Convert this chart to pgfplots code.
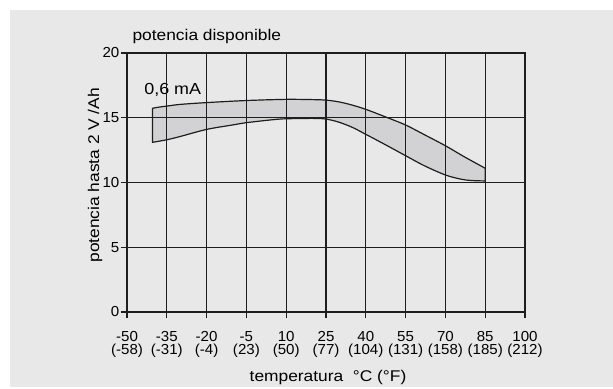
\documentclass[border=0pt]{standalone}
\usepackage{fontspec}
\setmainfont{Liberation Sans}[FakeStretch=1.12]
\newfontfamily\tickfont{Liberation Sans}[FakeStretch=1.04]
\usepackage{pgfplots}
\pgfplotsset{compat=1.18}
\usepgfplotslibrary{fillbetween}
\definecolor{bg}{RGB}{231,232,231}
\definecolor{band}{RGB}{210,210,212}
\definecolor{ln}{RGB}{30,30,30}

\begin{document}
\begin{tikzpicture}
\begin{axis}[
  at={(127pt,75pt)}, anchor=south west,
  scale only axis, width=398pt, height=259pt,
  xmin=-50, xmax=100, ymin=0, ymax=20,
  clip=false,
  xtick={-50,-35,-20,-5,10,25,40,55,70,85,100},
  xticklabels={{-50\\(-58)},{-35\\(-31)},{-20\\(-4)},{-5\\(23)},{10\\(50)},{25\\(77)},{40\\(104)},{55\\(131)},{70\\(158)},{85\\(185)},{100\\(212)}},
  ytick={0,5,10,15,20},
  grid=major,
  major grid style={ln, line width=1.2pt},
  axis line style={ln, line width=1.2pt},
  tick style={ln, line width=1.2pt},
  tick align=outside,
  major tick length=6pt,
  xtick pos=bottom, ytick pos=left,
  axis on top,
  /pgf/number format/assume math mode=true,
  xticklabel style={align=center, anchor=north, inner sep=0pt, yshift=-13.5pt,
    font=\tickfont\fontsize{14.5pt}{12.5pt}\selectfont},
  yticklabel style={anchor=east, inner sep=0pt, xshift=-1.5pt,
    font=\tickfont\fontsize{14.5pt}{12pt}\selectfont},
]
\begin{pgfonlayer}{axis background}
\fill[white] ([xshift=-127pt,yshift=-75pt]rel axis cs:0,0) rectangle ([xshift=88pt,yshift=53pt]rel axis cs:1,1);
\fill[bg] ([xshift=-117pt,yshift=-75pt]rel axis cs:0,0) rectangle ([xshift=88pt,yshift=43pt]rel axis cs:1,1);
\end{pgfonlayer}
\addplot[name path=up, smooth, draw=none] coordinates {
 (-40.4,15.73) (-38,15.82) (-35,15.9) (-30,16.03) (-20,16.17) (-5,16.33)
 (10,16.42) (20,16.4) (25,16.36) (30,16.22) (35,15.97) (40,15.65)
 (47,15.1) (55,14.44) (62,13.7) (70,12.84) (77,12.0) (85,11.1)};
\addplot[name path=lo, smooth, draw=none] coordinates {
 (-40.4,13.1) (-35,13.3) (-30,13.55) (-20,14.1) (-10,14.45) (-5,14.62)
 (5,14.85) (10,14.92) (20,14.95) (25,14.9) (30,14.65) (35,14.25)
 (40,13.72) (48,12.85) (55,12.07) (62,11.3) (70,10.58) (76,10.25)
 (80,10.15) (85,10.12)};
\addplot[fill=band, draw=ln, line width=1.2pt, line join=round] fill between[of=up and lo];
\node[anchor=base west, font=\fontsize{16pt}{18pt}\selectfont] at (axis cs:-44.8,16.83) {0,6 mA};
\end{axis}
\node[anchor=base west, font=\fontsize{15.5pt}{18pt}\selectfont] at (129pt,346.3pt) {potencia disponible};
\node[anchor=base, font=\fontsize{15.5pt}{18pt}\selectfont] at (328pt,5.3pt) {temperatura\ \ °C (°F)};
\node[rotate=90, anchor=base, font=\fontsize{15.5pt}{18pt}\selectfont] at (99pt,211.7pt) {potencia hasta 2 V /Ah};
\end{tikzpicture}
\end{document}
